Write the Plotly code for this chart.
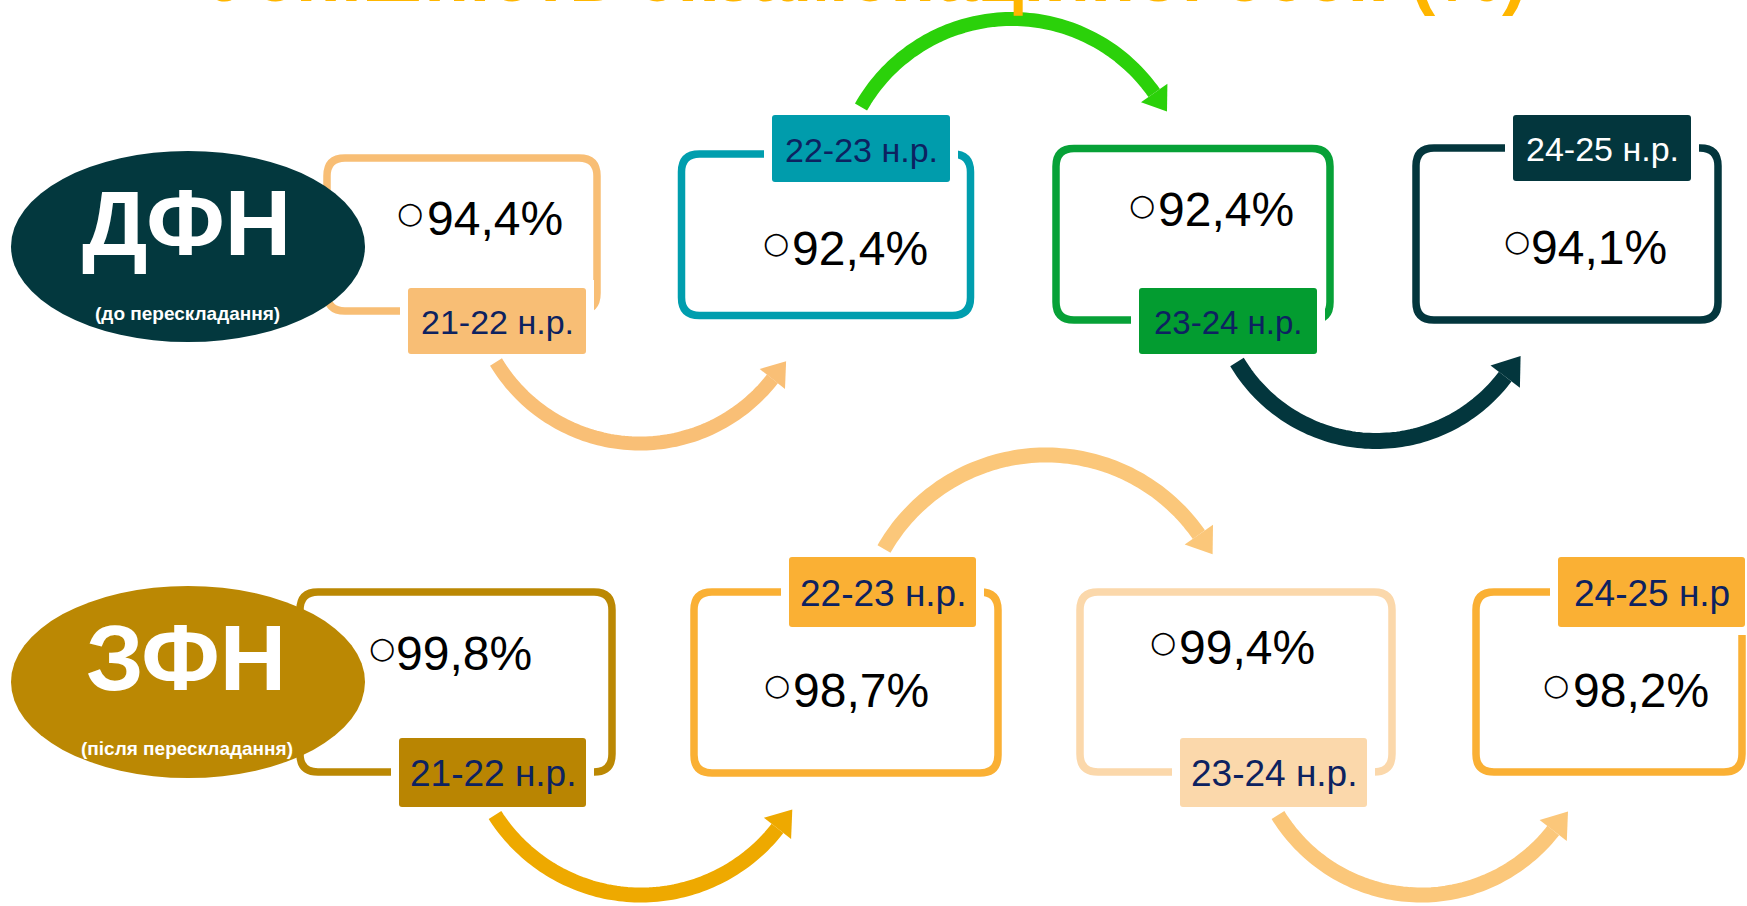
import numpy as np
import plotly.graph_objects as go

W, H = 1747, 906

# ---------------- data ----------------
groups = ["ДФН", "ЗФН"]
group_notes = ["(до перескладання)", "(після перескладання)"]
years_dfn = ["21-22 н.р.", "22-23 н.р.", "23-24 н.р.", "24-25 н.р."]
years_zfn = ["21-22 н.р.", "22-23 н.р.", "23-24 н.р.", "24-25 н.р"]
values_dfn = [94.4, 92.4, 92.4, 94.1]
values_zfn = [99.8, 98.7, 99.4, 98.2]
title_text = "Успішність екзаменаційної сесії (%)"

# ---------------- layout / styles ----------------
FONT = "Liberation Sans, Arial, sans-serif"
NAVY = "#0D2260"

ellipse_style = [
    dict(cx=188, cy=246.5, rx=177, ry=95.5, color="#03383E", ty=223, ny=313),
    dict(cx=188, cy=682, rx=177, ry=96, color="#BB8803", ty=658, ny=748),
]

box_style = [
    # row ДФН
    dict(box=(327, 158, 597, 311), lab=(408, 288, 586, 354), col="#F8BE75", lfill="#F8BE75",
         lcol=NAVY, val=(495, 218), bul=(410, 212), vfs=48, lfs=34),
    dict(box=(681.5, 154, 970.5, 315.5), lab=(772, 115, 950, 182), col="#009EAE", lfill="#009CAC",
         lcol=NAVY, val=(860, 248), bul=(776, 242), vfs=48, lfs=34),
    dict(box=(1056, 148.5, 1330, 320), lab=(1139, 288, 1317, 354), col="#07A137", lfill="#039C30",
         lcol=NAVY, val=(1226, 209), bul=(1142, 204), vfs=48, lfs=33),
    dict(box=(1416, 148, 1718, 320), lab=(1513, 115, 1691, 181), col="#03363D", lfill="#03363D",
         lcol="#FFFFFF", val=(1599, 247), bul=(1517, 240), vfs=48, lfs=34),
    # row ЗФН
    dict(box=(300, 592, 612, 772), lab=(399, 738, 586, 807), col="#BB8803", lfill="#B98502",
         lcol=NAVY, val=(464, 653), bul=(382, 647), vfs=48, lfs=37),
    dict(box=(694, 592, 998, 773), lab=(789, 557, 976, 627), col="#FAB034", lfill="#FAB034",
         lcol=NAVY, val=(861, 690), bul=(777, 684), vfs=48, lfs=37),
    dict(box=(1080, 592, 1392, 772), lab=(1180, 738, 1367, 807), col="#FBD8AB", lfill="#FBD8AB",
         lcol=NAVY, val=(1247, 647), bul=(1163, 641), vfs=48, lfs=37),
    dict(box=(1476, 592, 1742, 772), lab=(1558, 557, 1745, 627), col="#FAB034", lfill="#FAB034",
         lcol=NAVY, val=(1641, 690), bul=(1556, 684), vfs=48, lfs=37),
]

# curved arrows (circular arcs): start point, extreme point, end angle, width, colour
arrow_style = [
    dict(s=(496, 362), e=(640, 443.5), end=38, w=14, col="#F9BF76"),
    dict(s=(861, 107), e=(1012, 19), end=-35, w=14, col="#2BD10A"),
    dict(s=(1237, 362), e=(1376, 441), end=37, w=16, col="#03363D"),
    dict(s=(884, 549), e=(1046, 455), end=-35, w=15, col="#FBC77A"),
    dict(s=(495, 815), e=(641, 895), end=38, w=15, col="#EEA900"),
    dict(s=(1278, 815), e=(1421, 895), end=38, w=15, col="#FBC77A"),
]


def rrect(x0, y0, x1, y1, r):
    return (f"M {x0 + r},{y0} L {x1 - r},{y0} Q {x1},{y0} {x1},{y0 + r} "
            f"L {x1},{y1 - r} Q {x1},{y1} {x1 - r},{y1} L {x0 + r},{y1} "
            f"Q {x0},{y1} {x0},{y1 - r} L {x0},{y0 + r} Q {x0},{y0} {x0 + r},{y0} Z")


def fmt(v):
    return f"{v:.1f}".replace(".", ",") + "%"


fig = go.Figure()
fig.add_trace(go.Scatter(x=[0, W], y=[0, H], mode="markers",
                         marker=dict(opacity=0), hoverinfo="skip", showlegend=False))

shapes = []
annotations = []

# title (mostly above the visible area, as in the reference)
annotations.append(dict(x=210, y=19, xref="x", yref="y", xanchor="left", yanchor="bottom",
                        text=title_text, showarrow=False,
                        font=dict(family=FONT, size=75, color="#FFB600", weight="bold")))

years = years_dfn + years_zfn
values = values_dfn + values_zfn

# box outlines
for st in box_style:
    L, T, R, B = st["box"]
    shapes.append(dict(type="path", xref="x", yref="y", path=rrect(L, T, R, B, 18),
                       line=dict(color=st["col"], width=7.5), fillcolor="rgba(0,0,0,0)", layer="above"))

# ellipses
for g, (name, note, es) in enumerate(zip(groups, group_notes, ellipse_style)):
    shapes.append(dict(type="circle", xref="x", yref="y",
                       x0=es["cx"] - es["rx"], x1=es["cx"] + es["rx"],
                       y0=es["cy"] - es["ry"], y1=es["cy"] + es["ry"],
                       fillcolor=es["color"], line=dict(width=0), layer="above"))
    annotations.append(dict(x=es["cx"] - 2, y=es["ty"], xref="x", yref="y", text=name,
                            showarrow=False, xanchor="center", yanchor="middle",
                            font=dict(family=FONT, size=92, color="white", weight="bold")))
    annotations.append(dict(x=es["cx"] - 1, y=es["ny"], xref="x", yref="y", text=note,
                            showarrow=False, xanchor="center", yanchor="middle",
                            font=dict(family=FONT, size=19, color="white", weight="bold")))

# labels with white margins, values
for st, yr, v in zip(box_style, years, values):
    x0, y0, x1, y1 = st["lab"]
    m = 8
    shapes.append(dict(type="rect", xref="x", yref="y", x0=x0 - m, x1=x1 + m, y0=y0 - m, y1=y1 + m,
                       fillcolor="white", line=dict(width=0), layer="above"))
    shapes.append(dict(type="path", xref="x", yref="y", path=rrect(x0, y0, x1, y1, 3),
                       fillcolor=st["lfill"], line=dict(width=0), layer="above"))
    annotations.append(dict(x=(x0 + x1) / 2, y=(y0 + y1) / 2 + 1, xref="x", yref="y", text=yr,
                            showarrow=False, xanchor="center", yanchor="middle",
                            font=dict(family=FONT, size=st["lfs"], color=st["lcol"])))
    annotations.append(dict(x=st["val"][0], y=st["val"][1], xref="x", yref="y", text=fmt(v),
                            showarrow=False, xanchor="center", yanchor="middle",
                            font=dict(family=FONT, size=st["vfs"], color="black")))
    annotations.append(dict(x=st["bul"][0], y=st["bul"][1], xref="x", yref="y", text="○",
                            showarrow=False, xanchor="center", yanchor="middle",
                            font=dict(family="DejaVu Sans", size=30, color="black")))

# arrows
for a in arrow_style:
    sx, sy = a["s"]
    ex, ey = a["e"]
    dxs = ex - sx
    cx = ex
    cy = (ey + sy - dxs ** 2 / (ey - sy)) / 2
    r = abs(ey - cy)
    t0 = np.arctan2(sy - cy, sx - cx)
    t1 = np.radians(a["end"])
    if ey > sy and t0 < 0:
        t0 += 2 * np.pi
    th = np.linspace(t0, t1, 90)
    xs = cx + r * np.cos(th)
    ys = cy + r * np.sin(th)
    path = "M " + " L ".join(f"{x:.1f},{y:.1f}" for x, y in zip(xs, ys))
    shapes.append(dict(type="path", xref="x", yref="y", path=path,
                       line=dict(color=a["col"], width=a["w"]), layer="above"))
    sg = np.sign(t1 - t0)
    dx, dy = -np.sin(t1) * sg, np.cos(t1) * sg
    nx, ny = -dy, dx
    hw, hl = a["w"] * 1.15, a["w"] * 1.6
    bx, by = xs[-1], ys[-1]
    pts = [(bx + nx * hw, by + ny * hw), (bx + dx * hl, by + dy * hl), (bx - nx * hw, by - ny * hw)]
    hp = "M " + " L ".join(f"{x:.1f},{y:.1f}" for x, y in pts) + " Z"
    shapes.append(dict(type="path", xref="x", yref="y", path=hp,
                       fillcolor=a["col"], line=dict(width=0), layer="above"))

fig.update_layout(
    width=W, height=H, margin=dict(l=0, r=0, t=0, b=0),
    paper_bgcolor="white", plot_bgcolor="white",
    xaxis=dict(range=[0, W], visible=False, fixedrange=True),
    yaxis=dict(range=[H, 0], visible=False, fixedrange=True),
    shapes=shapes, annotations=annotations, showlegend=False,
)

fig.write_html("out.html", config={"displayModeBar": False},
               post_script="document.body.style.margin='0';document.body.style.overflow='hidden';")
